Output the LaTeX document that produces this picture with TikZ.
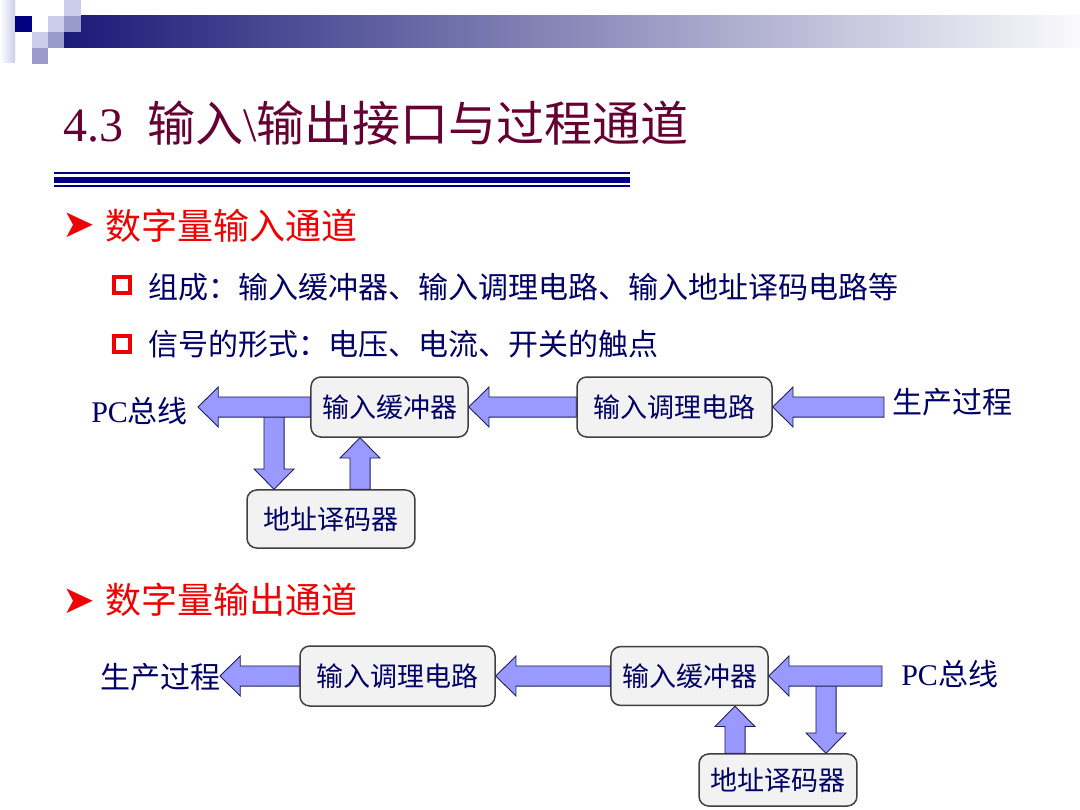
\documentclass[tikz,border=0pt]{standalone}
\usepackage{fontspec}
\setmainfont{Liberation Serif}
\newfontfamily\cjk{Noto Sans CJK SC}
\newfontfamily\symb{DejaVu Sans}
\usepackage{tikz}
\usetikzlibrary{calc, positioning}
\definecolor{titlecolor}{RGB}{102,0,51}
\definecolor{navytext}{RGB}{0,0,102}
\definecolor{headred}{RGB}{240,0,0}
\definecolor{linecolor}{RGB}{0,0,128}
\definecolor{boxfill}{RGB}{242,242,242}
\definecolor{boxline}{RGB}{64,64,64}
\definecolor{arrfill}{RGB}{153,153,255}
\definecolor{arrline}{RGB}{30,30,90}
\definecolor{sqlight}{RGB}{204,204,235}
\definecolor{sqmid}{RGB}{153,153,204}
\definecolor{barnavy}{RGB}{26,26,120}
\newcommand\arrshaft{6.7pt}
\newcommand\arrhead{13.3pt}
\newcommand\arrlen{13.5pt}

\begin{document}
\begin{tikzpicture}[
    x={(0.6667pt,0pt)}, y={(0pt,-0.6667pt)},
    block/.style={draw=boxline, line width=1pt, fill=boxfill, rounded corners=6.5pt, text=navytext, font=\cjk\fontsize{18}{22}\selectfont, inner sep=0pt},
    sig/.style={text=navytext, font=\fontsize{20}{24}\selectfont, inner sep=0pt},
    head/.style={text=headred, font=\cjk\fontsize{24}{29}\selectfont, inner sep=0pt},
    body/.style={text=navytext, font=\cjk\fontsize{20}{24}\selectfont, inner sep=0pt},
    arrbullet/.style={text=headred, font=\symb\fontsize{26}{30}\selectfont, inner sep=0pt},
    sqbullet/.style={draw=headred, line width=2.7pt, minimum size=10.7pt, inner sep=0pt},
    fat/.style={draw=arrline, fill=arrfill, line width=0.6pt, to path={
        ($(\tikztostart)!\arrshaft!90:(\tikztotarget)$)
        -- ($($(\tikztotarget)!\arrlen!(\tikztostart)$)!\arrshaft!-90:(\tikztostart)$)
        -- ($($(\tikztotarget)!\arrlen!(\tikztostart)$)!\arrhead!-90:(\tikztostart)$)
        -- (\tikztotarget)
        -- ($($(\tikztotarget)!\arrlen!(\tikztostart)$)!\arrhead!90:(\tikztostart)$)
        -- ($($(\tikztotarget)!\arrlen!(\tikztostart)$)!\arrshaft!90:(\tikztostart)$)
        -- ($(\tikztostart)!\arrshaft!-90:(\tikztotarget)$)
        -- cycle}}
]
    \useasboundingbox (0,0) rectangle (1080,810);
    \fill[white] (0,0) rectangle (1080,810);

    % Slide decoration
    \shade[left color=white, right color=sqlight] (0,0) rectangle (15,63);
    \shade[left color=barnavy, middle color={rgb,255:red,165;green,165;blue,195}, right color={rgb,255:red,250;green,250;blue,252}] (64,16) rectangle (1080,48);
    \fill[linecolor] (15,16) rectangle (32,32);
    \fill[sqlight] (48,16) rectangle (64,32);
    \fill[sqmid] (64,16) rectangle (81,32);
    \fill[sqlight] (64,0) rectangle (81,16);
    \fill[sqlight] (32,32) rectangle (48,48);
    \fill[sqmid] (48,32) rectangle (64,48);
    \fill[sqmid] (32,48) rectangle (48,64);

    % Title
    \node[anchor=base west, inner sep=0pt, text=titlecolor, font=\fontsize{32}{38}\selectfont] (title) at (63,142)
        {4.3\hspace{16pt}{\cjk 输入}\textbackslash{\cjk 输出接口与过程通道}};
    \draw[linecolor, line width=1.3pt] (54,173) -- (630,173);
    \draw[linecolor, line width=4pt] (54,180) -- (630,180);
    \draw[linecolor, line width=1.3pt] (54,186) -- (630,186);

    % Bullets
    \node[arrbullet] (bul1) at (79,225) {➤};
    \node[head, anchor=base west] (head1) at (105,239) {数字量输入通道};
    \node[sqbullet] (sq1) at (122,285) {};
    \node[body, anchor=base west] (item1) at (148,298) {组成：输入缓冲器、输入调理电路、输入地址译码电路等};
    \node[sqbullet] (sq2) at (122,344) {};
    \node[body, anchor=base west] (item2) at (148,355) {信号的形式：电压、电流、开关的触点};
    \node[arrbullet] (bul2) at (79,601) {➤};
    \node[head, anchor=base west] (head2) at (105,613) {数字量输出通道};

    % Input channel
    \node[block, minimum width=104.7pt, minimum height=40pt] (buf1) at (389.5,407) {输入缓冲器};
    \node[block, minimum width=130pt, minimum height=40pt] (cond1) at (674.5,407) {输入调理电路};
    \node[block, minimum width=112pt, minimum height=38.7pt] (addr1) at (331,519) {地址译码器};
    \node[sig, anchor=base west] (bus1) at (91,422) {PC{\cjk 总线}};
    \node[sig, anchor=base west] (proc1) at (892,413) {\cjk 生产过程};
    \coordinate (bus1tip) at (198,407);
    \coordinate (proc1tail) at (884,407);
    \coordinate (bus1split) at (274,407);
    \coordinate (up1) at ($(addr1.north)+(29,0)$);

    \draw[fat] (bus1split) to (bus1split |- addr1.north);
    \draw[fat] (buf1.west) to (bus1tip);
    \draw[fat] (cond1.west) to (buf1.east);
    \draw[fat] (proc1tail) to (cond1.east);
    \draw[fat] (up1) to (up1 |- buf1.south);

    % Output channel
    \node[block, minimum width=130pt, minimum height=40pt] (cond2) at (397.5,676) {输入调理电路};
    \node[block, minimum width=104.7pt, minimum height=39.3pt] (buf2) at (689.5,676) {输入缓冲器};
    \node[block, minimum width=105.3pt, minimum height=34.7pt] (addr2) at (778,780) {地址译码器};
    \node[sig, anchor=base west] (proc2) at (100,688) {\cjk 生产过程};
    \node[sig, anchor=base west] (bus2) at (901,685) {PC{\cjk 总线}};
    \coordinate (proc2tip) at (220,676);
    \coordinate (bus2tail) at (882,676);
    \coordinate (bus2split) at (826,676);
    \coordinate (up2) at ($(addr2.north)+(-43,0)$);

    \draw[fat] (bus2split) to (bus2split |- addr2.north);
    \draw[fat] (cond2.west) to (proc2tip);
    \draw[fat] (buf2.west) to (cond2.east);
    \draw[fat] (bus2tail) to (buf2.east);
    \draw[fat] (up2) to (up2 |- buf2.south);
\end{tikzpicture}
\end{document}
